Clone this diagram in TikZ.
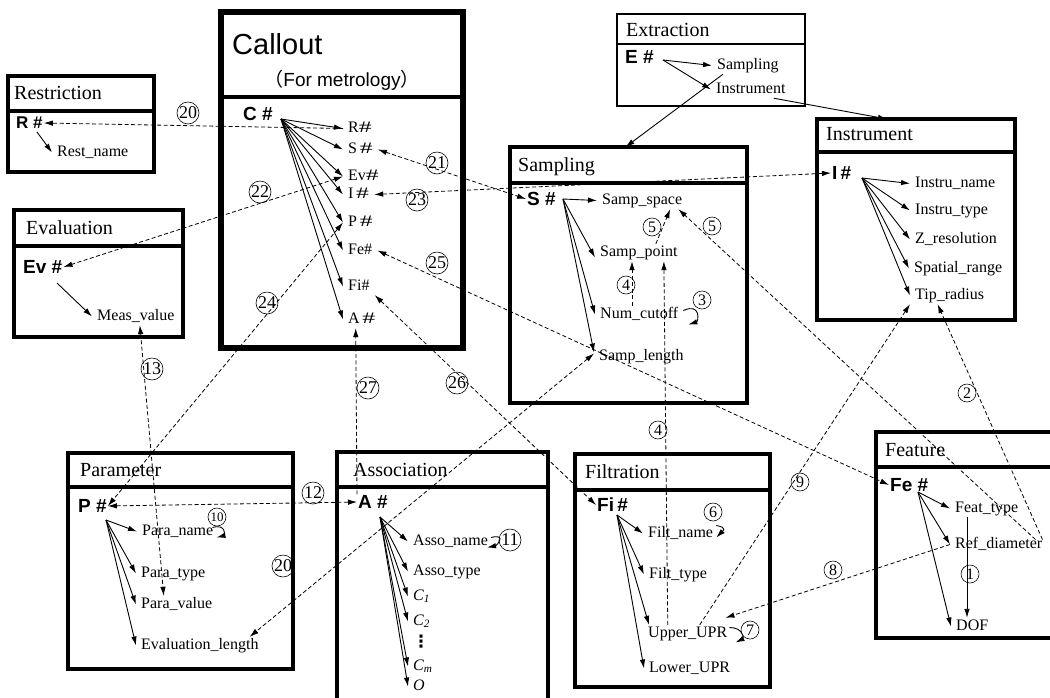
\documentclass[tikz,border=0pt]{standalone}
\usepackage{fontspec}
\setmainfont{Liberation Serif}
\newfontfamily\sansf{Liberation Sans}
\newfontfamily\cjkf{Noto Sans CJK SC}
\newfontfamily\dejavu{DejaVu Sans}
\usetikzlibrary{arrows.meta}
\newcommand\wh{\scalebox{1.6}[1.0]{\#}}
\tikzset{
 box/.style={draw, rectangle, line width=4.5pt, inner sep=0pt, outer sep=0pt, anchor=north west},
 sepl/.style={line width=4pt},
 ttl/.style={anchor=west, inner sep=0pt, yshift=-2pt, text height=14pt, text depth=5pt, font=\fontsize{20}{20}\selectfont},
 lbl/.style={anchor=west, inner xsep=5pt, inner ysep=1pt, yshift=-1.5pt, text height=11pt, text depth=4pt, font=\fontsize{16}{16}\selectfont},
 idf/.style={anchor=west, inner sep=1pt, font=\sansf\bfseries\fontsize{19}{19}\selectfont},
 arr/.style={-{Latex[length=9pt,width=5.5pt]}, line width=0.9pt},
 darr/.style={-{Latex[length=9pt,width=5.5pt]}, line width=0.8pt, dash pattern=on 4pt off 2.5pt},
 ddarr/.style={{Latex[length=9pt,width=5.5pt]}-{Latex[length=9pt,width=5.5pt]}, line width=0.8pt, dash pattern=on 4pt off 2.5pt},
 num/.style={circle, draw, line width=0.6pt, inner sep=0pt, minimum size=18pt, font=\fontsize{16}{16}\selectfont},
 numb/.style={circle, draw, line width=0.6pt, inner sep=0pt, minimum size=22pt, font=\fontsize{18}{18}\selectfont},
}
\begin{document}
\begin{tikzpicture}[x=1pt,y=-1pt]
\useasboundingbox (0,0) rectangle (1050,697);
\fill[white] (0,0) rectangle (1050,697);
\clip (0,0) rectangle (1050,697);

% ---------- boxes ----------
\node[box, line width=5.5pt, minimum width=242pt, minimum height=336pt] (callBox) at (221,12) {};
\draw[line width=4.5pt] (221,97) -- (463,97);
\node[box, minimum width=146pt, minimum height=96pt] (restBox) at (8,76) {};
\draw[sepl] (8,111) -- (154,111);
\node[box, minimum width=169pt, minimum height=127pt] (evalBox) at (14,210) {};
\draw[sepl] (14,246) -- (183,246);
\node[box, line width=1.3pt, minimum width=188pt, minimum height=92pt] (extBox) at (617,14) {};
\draw[line width=1.3pt] (617,44) -- (805,44);
\node[box, minimum width=237pt, minimum height=256pt] (sampBox) at (510,147) {};
\draw[sepl] (510,183) -- (747,183);
\node[box, minimum width=198pt, minimum height=201pt] (instBox) at (817,119) {};
\draw[sepl] (817,152) -- (1015,152);
\node[box, minimum width=225pt, minimum height=216pt] (paraBox) at (68,453) {};
\draw[sepl] (68,487) -- (293,487);
\node[box, minimum width=211pt, minimum height=260pt] (assoBox) at (337,452) {};
\draw[sepl] (337,487) -- (548,487);
\node[box, minimum width=195pt, minimum height=233pt] (filtBox) at (575,454) {};
\draw[sepl] (575,490) -- (770,490);
\node[box, minimum width=200pt, minimum height=206pt] (featBox) at (876,432) {};
\draw[sepl] (876,467) -- (1076,467);

% ---------- titles ----------
\node[anchor=west, inner sep=0pt, font=\sansf\fontsize{29}{29}\selectfont] (callT) at (232,44) {Callout};
\node[inner sep=0pt, font=\sansf\fontsize{19}{19}\selectfont] (callSub) at (342,80) {{\cjkf （}For metrology{\cjkf ）}};
\node[ttl] (restT) at (14,93) {Restriction};
\node[ttl] (evalT) at (26,228) {Evaluation};
\node[ttl] (extT) at (626,30) {Extraction};
\node[ttl] (sampT) at (518,165) {Sampling};
\node[ttl] (instT) at (826,134) {Instrument};
\node[ttl] (paraT) at (80,470) {Parameter};
\node[ttl] (assoT) at (353,470) {Association};
\node[ttl] (filtT) at (585,472) {Filtration};
\node[ttl] (featT) at (885,450) {Feature};

% ---------- identifiers ----------
\node[idf] (cC) at (242,114) {C \#};
\node[idf, font=\sansf\bfseries\fontsize{17}{17}\selectfont] (rR) at (15,123) {R \#};
\node[idf] (eEv) at (22,267) {Ev \#};
\node[idf] (eE) at (624,57) {E \#};
\node[idf] (sS) at (526,199) {S \#};
\node[idf] (iI) at (831,173) {I\,\#};
\node[idf] (pP) at (77,506) {P \#};
\node[idf] (aA) at (357,502) {A \#};
\node[idf] (fiFi) at (596,505) {Fi\,\#};
\node[idf] (fFe) at (889,485) {Fe \#};

% ---------- labels ----------
\node[lbl] (cR) at (343,127) {R\wh};
\node[lbl] (cS) at (343,148) {S\,\wh};
\node[lbl] (cEv) at (343,175) {Ev\wh};
\node[lbl] (cI) at (343,193) {I\,\wh};
\node[lbl] (cP) at (343,221) {P\,\wh};
\node[lbl] (cFe) at (343,249) {Fe\#};
\node[lbl] (cFi) at (343,285) {Fi\#};
\node[lbl] (cA) at (343,318) {A\,\wh};

\node[lbl] (rName) at (52,151) {Rest\_name};
\node[lbl] (eSamp) at (712,64) {Sampling};
\node[lbl] (eInst) at (711,88) {Instrument};
\node[lbl] (sSpace) at (597,199) {Samp\_space};
\node[lbl] (sPoint) at (595,251) {Samp\_point};
\node[lbl] (sNum) at (595,313) {Num\_cutoff};
\node[lbl] (sLen) at (594,355) {Samp\_length};
\node[lbl] (iName) at (910,182) {Instru\_name};
\node[lbl] (iType) at (910,209) {Instru\_type};
\node[lbl] (iZ) at (910,238) {Z\_resolution};
\node[lbl] (iSpat) at (909,267) {Spatial\_range};
\node[lbl] (iTip) at (910,294) {Tip\_radius};
\node[lbl] (eMeas) at (92,315) {Meas\_value};
\node[lbl] (pName) at (137,530) {Para\_name};
\node[lbl] (pType) at (136,572) {Para\_type};
\node[lbl] (pVal) at (136,603) {Para\_value};
\node[lbl] (pEval) at (136,644) {Evaluation\_length};
\node[lbl] (aName) at (408,540) {Asso\_name};
\node[lbl] (aType) at (408,570) {Asso\_type};
\node[lbl] (aC1) at (408,595) {\itshape C\textsubscript{1}};
\node[lbl] (aC2) at (408,620) {\itshape C\textsubscript{2}};
\node[inner sep=0pt, font=\dejavu\bfseries\fontsize{17}{17}\selectfont] (aDots) at (421,642) {⋮};
\node[lbl] (aCm) at (408,665) {\itshape C\textsubscript{m}};
\node[lbl] (aO) at (408,685) {\itshape O};
\node[lbl] (fName) at (643,532) {Filt\_name};
\node[lbl] (fType2) at (644,573) {Filt\_type};
\node[lbl] (fUp) at (643,632) {Upper\_UPR};
\node[lbl] (fLow) at (644,667) {Lower\_UPR};
\node[lbl] (fType) at (950,507) {Feat\_type};
\node[lbl] (fRef) at (950,543) {Ref\_diameter};
\node[lbl] (fDOF) at (951,625) {DOF};

% ---------- fan-out sources ----------
\coordinate (cSrc) at (281,119);
\coordinate (rSrc) at (37,132);
\coordinate (eSrc) at (663,60);
\coordinate (sSrc) at (563,199);
\coordinate (iSrc) at (862,178);
\coordinate (evSrc) at (57,283);
\coordinate (pSrc) at (106,520);
\coordinate (aSrc) at (380,517);
\coordinate (fiSrc) at (617,515);
\coordinate (feSrc) at (918,492);

% ---------- solid arrows ----------
\foreach \t in {cR,cS,cEv,cI,cP,cFe,cFi,cA} \draw[arr] (cSrc) -- (\t.west);
\draw[arr] (rSrc) -- (rName.west);
\draw[arr] (evSrc) -- (eMeas.west);
\draw[arr] (eSrc) -- (eSamp.west);
\draw[arr] (eSrc) -- (eInst.west);
\draw[arr] ([xshift=11pt]eSamp.south west) -- ([xshift=-3pt]sampBox.north);
\draw[arr] ([xshift=-17pt]eInst.south east) -- ([xshift=-29pt]instBox.north);
\draw[arr] (sSrc) -- (sSpace.west);
\draw[arr] (sSrc) -- ([yshift=-5pt]sPoint.west);
\draw[arr] (sSrc) -- (sNum.west);
\draw[arr] (sSrc) -- ([yshift=4pt]sLen.west);
\foreach \t in {iName,iType,iZ,iSpat,iTip} \draw[arr] (iSrc) -- (\t.west);
\foreach \t in {pName,pType,pVal,pEval} \draw[arr] (pSrc) -- (\t.west);
\foreach \t in {aName,aType,aC1,aC2,aCm,aO} \draw[arr] (aSrc) -- (\t.west);
\draw[arr] (fiSrc) -- (fName.west);
\draw[arr] (fiSrc) -- (fType2.west);
\draw[arr] (fiSrc) -- ([xshift=6pt]fUp.north west);
\draw[arr] (fiSrc) -- (fLow.west);
\foreach \t in {fType,fRef,fDOF} \draw[arr] (feSrc) -- (\t.west);
\draw[arr] ([xshift=17pt]fType.south west) -- ([xshift=16pt]fDOF.north west);

% ---------- self loops ----------
\draw[arr] ([yshift=4pt]sNum.east) .. controls +(18,-8) and +(10,-3) .. ([xshift=5pt,yshift=-10pt]sNum.east);
\draw[arr] ([xshift=-6pt,yshift=4pt]pName.east) .. controls +(14,-4) and +(8,-2) .. ([xshift=-2pt,yshift=-6pt]pName.east);
\draw[arr] ([xshift=-2pt,yshift=4pt]aName.east) .. controls +(16,-4) and +(10,-2) .. ([xshift=-6pt,yshift=-6pt]aName.east);
\draw[arr] ([xshift=-2pt,yshift=8pt]fName.east) .. controls +(12,2) and +(6,-6) .. ([xshift=-2pt,yshift=-4pt]fName.east);
\draw[arr] ([xshift=-3pt,yshift=6pt]fUp.east) .. controls +(14,0) and +(8,-4) .. ([xshift=3pt,yshift=-9pt]fUp.east);

% ---------- dashed connectors ----------
\draw[darr] (cR.west) -- (rR.east);
\draw[ddarr] (cS.east) -- (sS.west);
\draw[ddarr] (cEv.west) -- (eEv.east);
\draw[ddarr] (cI.east) -- (iI.west);
\draw[ddarr] (cP.west) -- (pP.east);
\draw[ddarr] (cFe.east) -- (fFe.west);
\draw[ddarr] (cFi.south east) -- (fiFi.west);
\draw[darr] (aA.north west) -- ([xshift=-6pt]cA.south);
\draw[ddarr] (pP.east) -- (aA.west);
\draw[ddarr] ([xshift=4pt]eMeas.south) -- ([xshift=-13pt]pVal.north);
\draw[ddarr] ([yshift=3pt]sLen.west) -- ([xshift=-14pt]pEval.north east);
\draw[darr] ([xshift=-20pt]fUp.north) -- ([xshift=25pt]sPoint.south);
\draw[darr] ([xshift=37pt]sNum.north west) -- ([xshift=37pt]sPoint.south west);
\draw[darr] ([xshift=17pt]sPoint.north) -- ([xshift=28pt]sSpace.south);
\draw[darr] ([xshift=-12pt,yshift=5pt]fRef.east) -- ([xshift=-9pt]sSpace.south east);
\draw[darr] ([xshift=-5pt,yshift=5pt]fRef.east) -- ([xshift=-12pt]iTip.south);
\draw[darr] ([xshift=12pt]fUp.north) -- (iTip.south west);
\draw[darr] (fRef.west) -- ([xshift=-7pt,yshift=7pt]fUp.north east);

% ---------- circled numbers ----------
\node[numb] (n20a) at (188,113) {20};
\node[numb] (n21) at (437,163) {21};
\node[numb] (n22) at (260,192) {22};
\node[numb] (n23) at (417,200) {23};
\node[numb] (n24) at (267,303) {24};
\node[numb] (n25) at (437,263) {25};
\node[numb] (n26) at (457,383) {26};
\node[numb] (n27) at (368,388) {27};
\node[num] (n5a) at (652,227) {5};
\node[num] (n5b) at (712,226) {5};
\node[num] (n4a) at (626,285) {4};
\node[num] (n3) at (702,300) {3};
\node[num] (n4b) at (658,430) {4};
\node[num] (n2) at (967,393) {2};
\node[num] (n9) at (800,482) {9};
\node[num] (n8) at (833,570) {8};
\node[num] (n1) at (970,574) {1};
\node[num] (n6) at (713,512) {6};
\node[num] (n7) at (750,630) {7};
\node[numb] (n13) at (152,369) {13};
\node[numb] (n12) at (313,493) {12};
\node[num, font=\fontsize{13}{13}\selectfont] (n10) at (217,517) {10};
\node[numb] (n20b) at (283,566) {20};
\node[numb] (n11) at (510,540) {11};
\end{tikzpicture}
\end{document}
